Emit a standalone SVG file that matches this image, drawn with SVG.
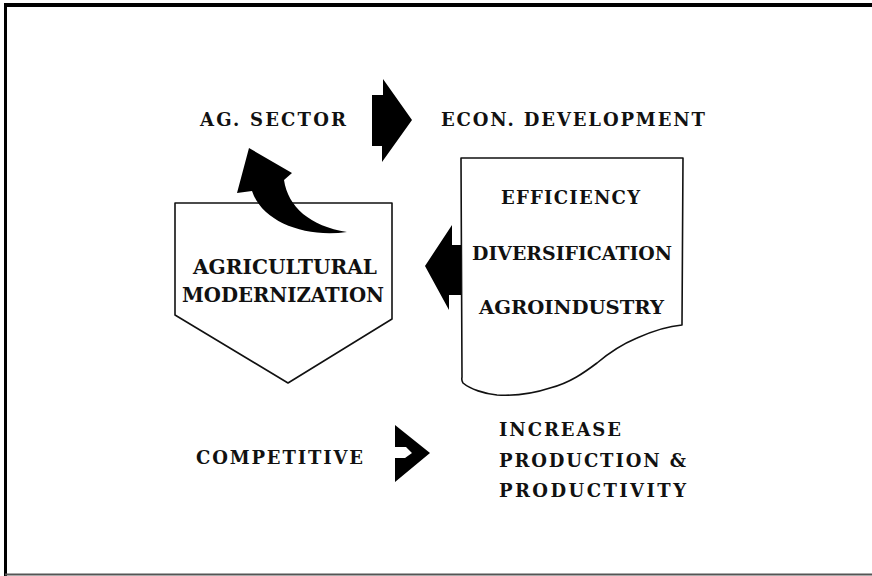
<svg xmlns="http://www.w3.org/2000/svg" width="872" height="576" viewBox="0 0 872 576">
<style>
.t{font-family:"DejaVu Serif","Liberation Serif",serif;font-weight:bold;fill:#111;}
.box{fill:#fff;stroke:#111;stroke-width:1.6;stroke-linejoin:round;}
.arr{fill:#000;stroke:none;}
</style>
<rect width="872" height="576" fill="#fff"/>
<g id="frame">
<line x1="4" y1="5" x2="872" y2="5" stroke="#000" stroke-width="4"/>
<line x1="5.5" y1="3" x2="5.5" y2="576" stroke="#000" stroke-width="3"/>
<line x1="5" y1="574.5" x2="872" y2="574.5" stroke="#555" stroke-width="2"/>
</g>
<g id="ag-sector"><text class="t" x="200" y="126" font-size="18" textLength="146" lengthAdjust="spacing">AG. SECTOR</text></g>
<g id="econ-development"><text class="t" x="441" y="126" font-size="18" textLength="264" lengthAdjust="spacing">ECON. DEVELOPMENT</text></g>
<g id="agricultural-modernization">
<polygon class="box" points="175,203 392,203 392,319 288,383 175,315"/>
<text class="t" x="193" y="274" font-size="20" textLength="184" lengthAdjust="spacingAndGlyphs">AGRICULTURAL</text>
<text class="t" x="182" y="302" font-size="20" textLength="202" lengthAdjust="spacingAndGlyphs">MODERNIZATION</text>
</g>
<g id="drivers">
<path class="box" d="M461,158 L683,158 L682,325 C670,326 655,330 637,338 C625,343 610,352 597,363 C585,372 570,383 550,388 C535,393 515,396 497,395 C485,394 470,389 463,383 C461,380 462,378 462,377 Z"/>
<text class="t" x="501" y="204" font-size="18" textLength="139" lengthAdjust="spacing">EFFICIENCY</text>
<text class="t" x="472" y="260" font-size="18" textLength="200" lengthAdjust="spacingAndGlyphs">DIVERSIFICATION</text>
<text class="t" x="479" y="314" font-size="18" textLength="185" lengthAdjust="spacingAndGlyphs">AGROINDUSTRY</text>
</g>
<g id="competitive"><text class="t" x="196" y="464" font-size="18" textLength="167" lengthAdjust="spacing">COMPETITIVE</text></g>
<g id="increase-production">
<text class="t" x="499" y="436" font-size="18" textLength="122" lengthAdjust="spacing">INCREASE</text>
<text class="t" x="499" y="467" font-size="18" textLength="187" lengthAdjust="spacing">PRODUCTION &amp;</text>
<text class="t" x="499" y="497" font-size="18" textLength="187" lengthAdjust="spacing">PRODUCTIVITY</text>
</g>
<g id="connectors">
<polygon class="arr" points="372,95 383,95 383,79 412,120 382,162 382,146 372,146"/>
<polygon class="arr" points="461,245 452,245 452,225 425,266 449,310 449,295 461,295"/>
<path class="arr" d="M249,148 L292,173 L284,180 C288,207 310,226 347,232 C305,238 262,222 252,191 L237,193 Z"/>
<polygon class="arr" points="395,425 430,453 395,482 395,458 405,458 412,453 406,447 395,447"/>
</g>
</svg>
